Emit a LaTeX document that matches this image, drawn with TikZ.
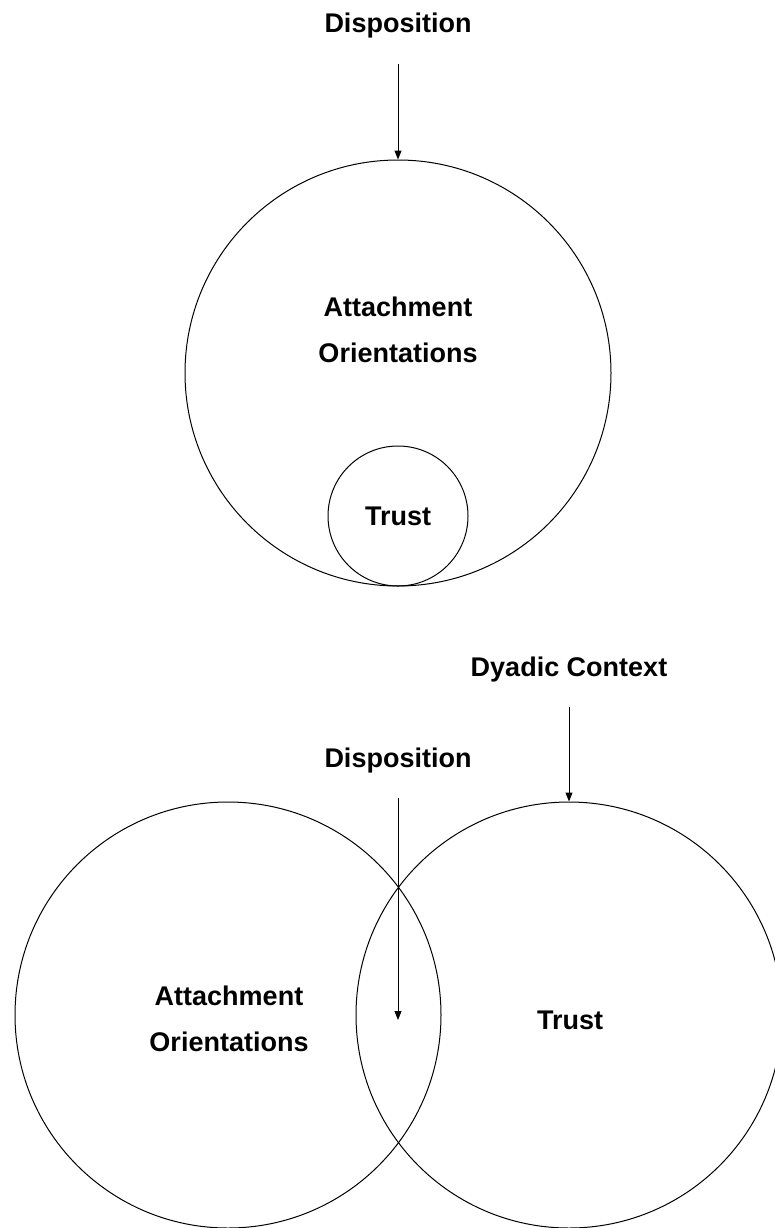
\documentclass[tikz,border=0pt]{standalone}
\usepackage{fontspec}
\setmainfont{Liberation Sans}
\usetikzlibrary{arrows.meta}

\tikzset{
    lbl/.style={font=\bfseries\fontsize{27}{46}\selectfont, align=center, inner sep=0pt},
    ring/.style={circle, draw, line width=1pt, inner sep=0pt},
    feed/.style={-{Triangle[length=9pt,width=7pt]}, line width=1pt, shorten <=25pt},
}

\begin{document}
\begin{tikzpicture}[x=1pt,y=-1pt]
    \useasboundingbox (0,0) rectangle (774,1228);

    % Trust nested in attachment
    \node[ring, minimum size=426pt] (attBig) at (398,373) {};
    \node[ring, lbl, minimum size=140pt] (trustSmall) at (398,516) {Trust};
    \node[lbl] (attText) at (398,330) {Attachment\\Orientations};
    \node[lbl, anchor=base] (dispTop) at (398,33) {Disposition};
    \draw[feed] (dispTop.south) -- (attBig.north);

    % Overlapping circles
    \node[ring, minimum size=426pt] (attLeft) at (228,1015) {};
    \node[ring, minimum size=426pt] (trustRight) at (569,1015) {};
    \node[lbl] (attText2) at (229,1019) {Attachment\\Orientations};
    \node[lbl, anchor=base] (trustText) at (570,1029) {Trust};
    \node[lbl, anchor=base] (dyadic) at (569,676) {Dyadic Context};
    \node[lbl, anchor=base] (dispLow) at (398,767) {Disposition};
    \coordinate (lensPt) at (398,1020);
    \draw[feed] (dyadic.south) -- (trustRight.north);
    \draw[feed] (dispLow.south) -- (lensPt);
\end{tikzpicture}
\end{document}
